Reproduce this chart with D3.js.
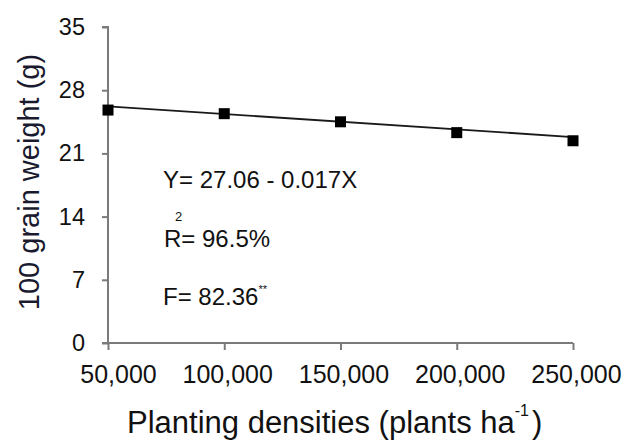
<!DOCTYPE html>
<html>
<head>
<meta charset="utf-8">
<script src="https://cdn.jsdelivr.net/npm/d3@7"></script>
<style>
  body { margin: 0; background: #fff; }
  svg text { font-family: "Liberation Sans", Arial, sans-serif; fill: #111; }
</style>
</head>
<body>
<div id="chart"></div>
<script>
// densities (plants ha-1) and 100 grain weight (g)
var densities = [50000, 100000, 150000, 200000, 250000];
var grainWeight = [25.8, 25.4, 24.5, 23.3, 22.4];
var yTicks = [0, 7, 14, 21, 28, 35];
var xTickLabels = ["50,000", "100,000", "150,000", "200,000", "250,000"];
// fitted line Y = 27.06 - 0.017X (X in thousand plants)
var fitCoef = [27.06, -0.017];

var W = 627, H = 441;
var margin = {top: 27, right: 54, bottom: 98, left: 108},
    width = W - margin.left - margin.right,
    height = H - margin.top - margin.bottom;

var svg = d3.select("#chart").append("svg")
    .attr("width", W)
    .attr("height", H);

var g = svg.append("g")
    .attr("transform", "translate(" + margin.left + "," + margin.top + ")");

var x = d3.scaleLinear().domain([50000, 250000]).range([0, width]);
var y = d3.scaleLinear().domain([0, 35]).range([height, 0]);

// y axis
var yAxis = g.append("g")
    .call(d3.axisLeft(y).tickValues(yTicks).tickSize(6).tickPadding(17).tickFormat(d3.format("d")));
yAxis.selectAll("text").style("font-size", "23.5px");

// x axis
var xAxis = g.append("g")
    .attr("transform", "translate(0," + height + ")")
    .call(d3.axisBottom(x).tickValues(densities).tickSize(7).tickPadding(15)
        .tickFormat(function(d, i) { return xTickLabels[i]; }));
xAxis.selectAll("text")
    .style("font-size", "25px")
    .attr("dx", function(d, i) { return i === 0 ? 10 : 3; });

g.selectAll(".domain, .tick line")
    .attr("stroke", "#7a7a7a")
    .attr("stroke-width", 2);
xAxis.select(".domain").attr("d", "M-6,0H" + width);
yAxis.select(".domain").attr("d", "M-6,0H0V" + height);

// regression line
var ends = [densities[0], densities[densities.length - 1]];
g.append("line")
    .attr("x1", x(ends[0])).attr("y1", y(fitCoef[0] + fitCoef[1] * ends[0] / 1000))
    .attr("x2", x(ends[1])).attr("y2", y(fitCoef[0] + fitCoef[1] * ends[1] / 1000))
    .attr("stroke", "#1a1a1a")
    .attr("stroke-width", 1.8);

// points
var sq = 11;
g.selectAll(".pt")
    .data(densities)
    .enter().append("rect")
    .attr("class", "pt")
    .attr("x", function(d) { return x(d) - sq / 2; })
    .attr("y", function(d, i) { return y(grainWeight[i]) - sq / 2; })
    .attr("width", sq)
    .attr("height", sq)
    .attr("fill", "#000");

// equation block
svg.append("text").attr("x", 163).attr("y", 188).style("font-size", "24px")
    .text("Y= 27.06 - 0.017X");
svg.append("text").attr("x", 164).attr("y", 247).style("font-size", "24px")
    .text("R= 96.5%");
svg.append("text").attr("x", 175).attr("y", 221).style("font-size", "13px")
    .text("2");
var ft = svg.append("text").attr("x", 163).attr("y", 305).style("font-size", "24px");
ft.append("tspan").text("F= 82.36");
ft.append("tspan").attr("dy", -12).style("font-size", "11px").text("**");

// axis titles
svg.append("text")
    .attr("transform", "translate(39,182) rotate(-90)")
    .attr("text-anchor", "middle")
    .style("font-size", "29px")
    .style("fill", "#1a1a2e")
    .text("100 grain weight (g)");

var xt = svg.append("text")
    .attr("x", 127).attr("y", 433)
    .style("font-size", "31px");
xt.append("tspan").text("Planting densities (plants ha");
xt.append("tspan").attr("dx", 0).attr("dy", -17).style("font-size", "16px").text("-1");
xt.append("tspan").attr("dx", 3).attr("dy", 17).text(")");
</script>
</body>
</html>
